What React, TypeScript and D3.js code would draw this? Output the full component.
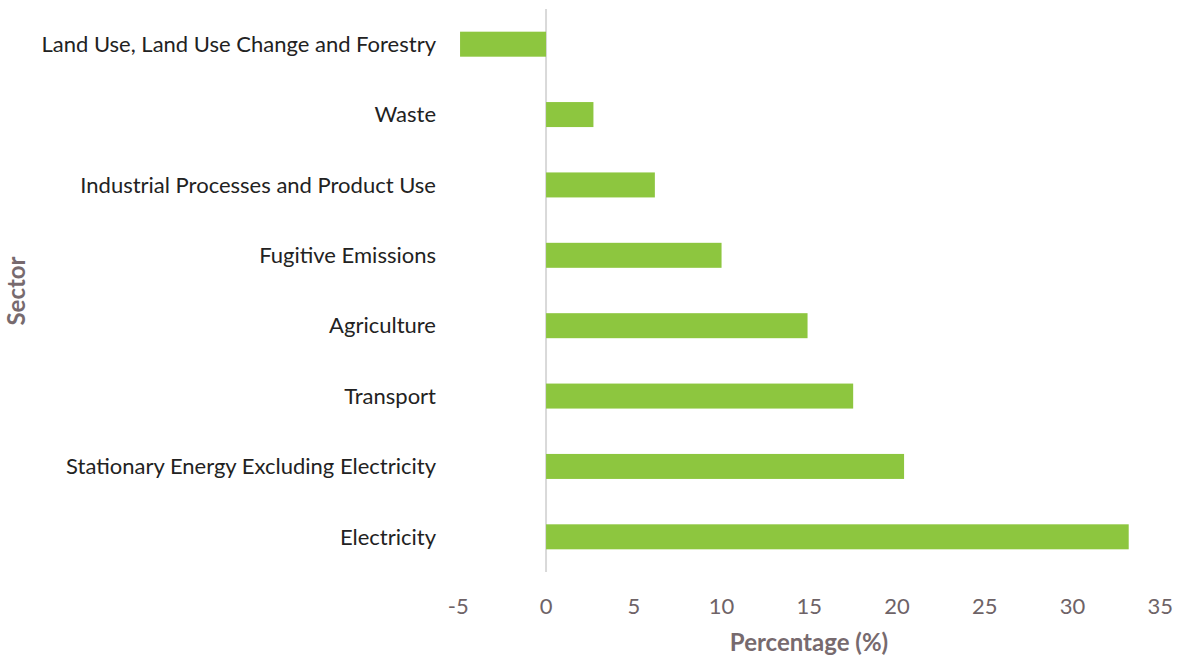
import React from "react";
import * as d3 from "d3";

const sectors = [
  "Land Use, Land Use Change and Forestry",
  "Waste",
  "Industrial Processes and Product Use",
  "Fugitive Emissions",
  "Agriculture",
  "Transport",
  "Stationary Energy Excluding Electricity",
  "Electricity",
];
const percentages = [-4.9, 2.7, 6.2, 10.0, 14.9, 17.5, 20.4, 33.2];
const xTicks = [-5, 0, 5, 10, 15, 20, 25, 30, 35];

const W = 1177;
const H = 656;
const FONT = "Lato, 'Open Sans', sans-serif";

export default function App() {
  const x = d3.scaleLinear().domain([-5, 35]).range([458.3, 1160.3]);
  const y = d3.scaleBand<string>().domain(sectors).range([9, 572]).paddingInner(0.645).paddingOuter(0.3225);
  const bh = 25;
  return (
    <svg width={W} height={H} style={{ position: "absolute", left: 0, top: 0 }}>
      <rect width={W} height={H} fill="#fff" />
      <line x1={x(0)} x2={x(0)} y1={9} y2={572} stroke="#d9d9d9" strokeWidth={2} />
      {sectors.map((s, i) => {
        const v = percentages[i];
        const cy = (y(s) as number) + y.bandwidth() / 2;
        return (
          <g key={s}>
            <rect
              x={x(Math.min(0, v))}
              y={cy - bh / 2}
              width={Math.abs(x(v) - x(0))}
              height={bh}
              fill="#8DC63F"
            />
            <text x={436} y={cy} dy="0.35em" textAnchor="end" fontFamily={FONT} fontSize={22} fill="#222">
              {s}
            </text>
          </g>
        );
      })}
      {xTicks.map((t) => (
        <text key={t} x={x(t)} y={606} dy="0.35em" textAnchor="middle" fontFamily={FONT} fontSize={22} fill="#6e6367">
          {t}
        </text>
      ))}
      <text x={809} y={643} dy="0.35em" textAnchor="middle" fontFamily={FONT} fontSize={24} fontWeight="bold" fill="#776a6e">
        Percentage (%)
      </text>
      <text
        transform="translate(17,291) rotate(-90)"
        dy="0.35em"
        textAnchor="middle"
        fontFamily={FONT}
        fontSize={24}
        fontWeight="bold"
        fill="#776a6e"
      >
        Sector
      </text>
    </svg>
  );
}
